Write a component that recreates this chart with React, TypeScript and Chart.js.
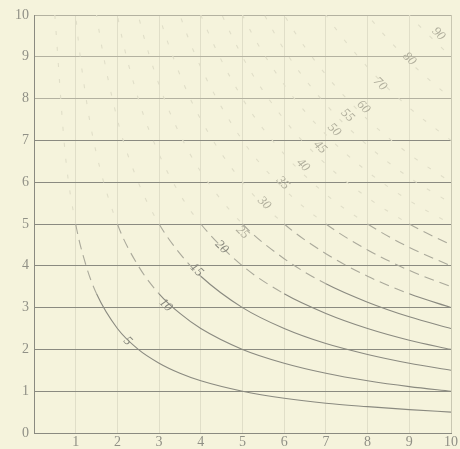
import React, { useEffect, useRef } from "react";
import { Chart, registerables } from "chart.js";

Chart.register(...registerables);

const X_VALUES = [0.5, 0.75, 1, 1.25, 1.5, 2, 2.5, 3, 3.5, 4, 5, 6, 7, 8, 9, 10];

// y readings for each curve (null = outside the drawn field)
const CURVE_5 = [10, 6.67, 5, 4, 3.33, 2.5, 2, 1.67, 1.43, 1.25, 1, 0.83, 0.71, 0.63, 0.56, 0.5];
const CURVE_10 = [null, 13.3, 10, 8, 6.67, 5, 4, 3.33, 2.86, 2.5, 2, 1.67, 1.43, 1.25, 1.11, 1];
const CURVE_15 = [null, null, 15, 12, 10, 7.5, 6, 5, 4.29, 3.75, 3, 2.5, 2.14, 1.88, 1.67, 1.5];
const CURVE_20 = [null, null, null, 16, 13.3, 10, 8, 6.67, 5.71, 5, 4, 3.33, 2.86, 2.5, 2.22, 2];
const CURVE_25 = [null, null, null, null, 16.7, 12.5, 10, 8.33, 7.14, 6.25, 5, 4.17, 3.57, 3.13, 2.78, 2.5];
const CURVE_30 = [null, null, null, null, null, 15, 12, 10, 8.57, 7.5, 6, 5, 4.29, 3.75, 3.33, 3];
const CURVE_35 = [null, null, null, null, null, null, 14, 11.67, 10, 8.75, 7, 5.83, 5, 4.38, 3.89, 3.5];
const CURVE_40 = [null, null, null, null, null, null, null, 13.3, 11.43, 10, 8, 6.67, 5.71, 5, 4.44, 4];
const CURVE_45 = [null, null, null, null, null, null, null, null, 12.86, 11.25, 9, 7.5, 6.43, 5.63, 5, 4.5];
const CURVE_50 = [null, null, null, null, null, null, null, null, null, 12.5, 10, 8.33, 7.14, 6.25, 5.56, 5];
const CURVE_55 = [null, null, null, null, null, null, null, null, null, null, 11, 9.17, 7.86, 6.88, 6.11, 5.5];
const CURVE_60 = [null, null, null, null, null, null, null, null, null, null, 12, 10, 8.57, 7.5, 6.67, 6];
const CURVE_70 = [null, null, null, null, null, null, null, null, null, null, null, 11.67, 10, 8.75, 7.78, 7];
const CURVE_80 = [null, null, null, null, null, null, null, null, null, null, null, null, 11.43, 10, 8.89, 8];
const CURVE_90 = [null, null, null, null, null, null, null, null, null, null, null, null, null, 11.25, 10, 9];

const CURVES = [CURVE_5, CURVE_10, CURVE_15, CURVE_20, CURVE_25, CURVE_30, CURVE_35, CURVE_40,
  CURVE_45, CURVE_50, CURVE_55, CURVE_60, CURVE_70, CURVE_80, CURVE_90];

// Curve labels along the diagonal
const LABEL_TEXT = ["5", "10", "15", "20", "25", "30", "35", "40", "45", "50", "55", "60", "70", "80", "90"];
const LABEL_X = [2.25, 3.16, 3.9, 4.5, 5.0, 5.52, 5.97, 6.45, 6.86, 7.2, 7.52, 7.9, 8.3, 9.0, 9.7];
const LABEL_Y = [2.2, 3.06, 3.9, 4.45, 4.8, 5.5, 5.98, 6.41, 6.84, 7.25, 7.6, 7.8, 8.35, 8.95, 9.55];

// Axis ticks
const X_TICKS = [1, 2, 3, 4, 5, 6, 7, 8, 9, 10];
const Y_TICKS = [0, 1, 2, 3, 4, 5, 6, 7, 8, 9, 10];

const BG = "#f5f3dc";
const INK = "#8a8a80";
const FAINT = "#c9c7b2";
const VERY_FAINT = "#e0dec8";

export default function App() {
  const ref = useRef<HTMLCanvasElement | null>(null);

  useEffect(() => {
    document.body.style.margin = "0";
    document.body.style.background = BG;
    const canvas = ref.current;
    if (!canvas) return;

    const datasets = CURVES.map((arr) => ({
      data: X_VALUES.map((x, i) => ({ x, y: arr[i] })).filter((p) => p.y !== null),
      borderColor: INK,
      borderWidth: 1.1,
      pointRadius: 0,
      fill: false,
      cubicInterpolationMode: "monotone" as const,
      segment: {
        borderColor: (ctx: any) => {
          const y = (ctx.p0.parsed.y + ctx.p1.parsed.y) / 2;
          if (y < 3.4) return INK;
          if (y < 5) return "#aaa99b";
          return VERY_FAINT;
        },
        borderDash: (ctx: any) => {
          const y = (ctx.p0.parsed.y + ctx.p1.parsed.y) / 2;
          if (y < 3.4) return [];
          if (y < 5) return [10, 6];
          return [4, 12];
        },
      },
    }));

    const bgPlugin = {
      id: "bg",
      beforeDraw(chart: any) {
        const c = chart.ctx;
        c.save();
        c.fillStyle = BG;
        c.fillRect(0, 0, chart.width, chart.height);
        c.restore();
      },
    };

    const labelPlugin = {
      id: "curveLabels",
      afterDatasetsDraw(chart: any) {
        const c = chart.ctx;
        const xs = chart.scales.x;
        const ys = chart.scales.y;
        c.save();
        c.font = "italic 13px 'Liberation Serif', serif";
        c.textAlign = "center";
        c.textBaseline = "middle";
        LABEL_TEXT.forEach((t, i) => {
          const px = xs.getPixelForValue(LABEL_X[i]);
          const py = ys.getPixelForValue(LABEL_Y[i]);
          c.save();
          c.translate(px, py);
          c.rotate(Math.PI / 4);
          c.fillStyle = i < 4 ? "#86867c" : "#b0ae9c";
          c.fillText(t, 0, 0);
          c.restore();
        });
        c.restore();
      },
    };

    const chart = new Chart(canvas, {
      type: "line",
      data: { datasets },
      plugins: [bgPlugin, labelPlugin],
      options: {
        animation: false,
        responsive: false,
        devicePixelRatio: 1,
        layout: { padding: { top: 15, right: 9, left: 0, bottom: 0 } },
        plugins: { legend: { display: false }, tooltip: { enabled: false } },
        scales: {
          x: {
            type: "linear",
            min: 0,
            max: 10,
            afterFit(scale: any) {
              scale.height = 16;
            },
            afterBuildTicks(scale: any) {
              scale.ticks = [0, ...X_TICKS].map((v) => ({ value: v }));
            },
            ticks: {
              padding: 1,
              color: "#909086",
              font: { family: "'Liberation Serif', serif", size: 14 },
              callback: (v: any) => (v === 0 ? "" : String(v)),
              maxRotation: 0,
              autoSkip: false,
            },
            grid: {
              drawTicks: false,
              color: (ctx: any) => {
                const v = ctx.tick ? ctx.tick.value : 0;
                if (v === 0) return INK;
                if (v === 10) return FAINT;
                return VERY_FAINT;
              },
              lineWidth: 1,
            },
            border: { display: true, color: INK, width: 1 },
          },
          y: {
            type: "linear",
            min: 0,
            max: 10,
            afterFit(scale: any) {
              scale.width = 34;
            },
            afterBuildTicks(scale: any) {
              scale.ticks = Y_TICKS.map((v) => ({ value: v }));
            },
            ticks: {
              padding: 5,
              color: "#909086",
              font: { family: "'Liberation Serif', serif", size: 14 },
              autoSkip: false,
            },
            grid: {
              drawTicks: false,
              color: (ctx: any) => {
                const v = ctx.tick ? ctx.tick.value : 0;
                if (v <= 7) return INK;
                return "#b3b1a0";
              },
              lineWidth: 1,
            },
            border: { display: true, color: INK, width: 1 },
          },
        },
      },
    } as any);

    return () => chart.destroy();
  }, []);

  return (
    <div style={{ position: "absolute", left: 0, top: 0, width: 460, height: 449, background: BG }}>
      <canvas ref={ref} width={460} height={449} style={{ display: "block" }} />
    </div>
  );
}
